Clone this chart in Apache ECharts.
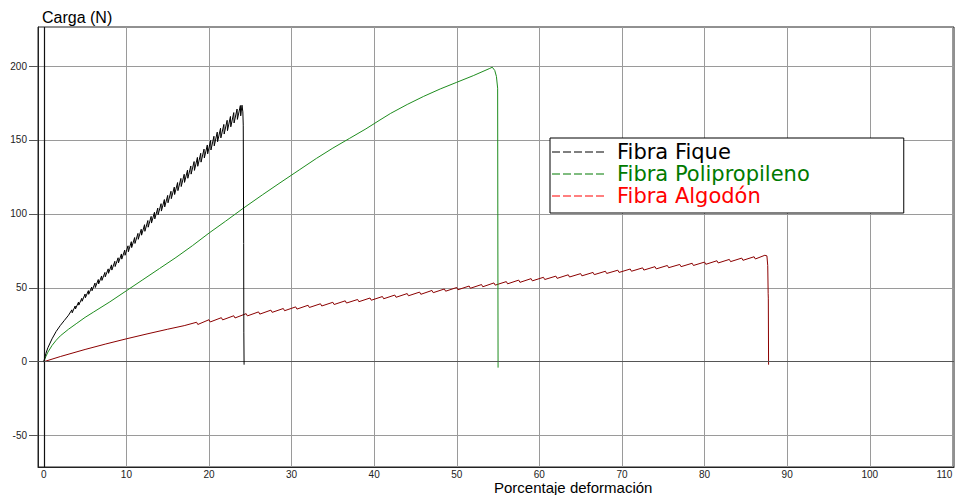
<!DOCTYPE html>
<html><head><meta charset="utf-8">
<script src="https://cdn.jsdelivr.net/npm/echarts@6/dist/echarts.min.js"></script>
<style>html,body{margin:0;padding:0;background:#fff}#c{width:955px;height:495px}</style>
</head><body><div id="c"></div>
<script>
const seriesNames = ['Fibra Fique', 'Fibra Polipropileno', 'Fibra Algodón'];
const xTicks = [0, 10, 20, 30, 40, 50, 60, 70, 80, 90, 100, 110];
const yTicks = [-50, 0, 50, 100, 150, 200];

const fiqueData = [
[0,0],[0.25,5.5],[0.5,9.5],[1,15.5],[1.5,20.5],[2,24.5],[2.5,28],[3,31.5],
[3.4,35.1],[3.44,33.1],[3.8,37.7],[3.84,35.7],[4.2,40.3],[4.24,38.3],[4.6,42.9],[4.64,40.9],
[5.0,45.8],[5.04,43.3],[5.4,48.1],[5.44,45.6],[5.8,50.5],[5.84,48.0],[6.2,53.2],[6.24,50.2],
[6.6,55.6],[6.64,52.6],[7.0,58],[7.04,55],[7.4,60.4],[7.44,57.4],[7.8,62.8],[7.84,59.8],
[8.2,65.5],[8.24,62],[8.6,67.9],[8.64,64.4],[9.0,70.3],[9.04,66.8],[9.4,72.9],[9.44,69.4],
[9.8,75.5],[9.84,72],[10.2,78.4],[10.24,74.4],[10.6,81.2],[10.64,77.2],[11.0,84],[11.04,80],
[11.4,86.8],[11.44,82.8],[11.8,89.6],[11.84,85.6],[12.2,92.7],[12.24,88.2],[12.6,95.5],[12.64,91],
[13.0,98.3],[13.04,93.8],[13.4,101.1],[13.44,96.6],[13.8,103.9],[13.84,99.4],[14.2,106.9],[14.24,101.9],
[14.6,109.7],[14.64,104.7],[15.0,112.5],[15.04,107.5],[15.4,115.3],[15.44,110.3],[15.8,118.1],[15.84,113.1],
[16.2,121.2],[16.24,115.7],[16.6,124],[16.64,118.5],[17.0,126.8],[17.04,121.3],[17.4,129.6],[17.44,124.1],
[17.8,132.4],[17.84,126.9],[18.2,135.4],[18.24,129.4],[18.6,138.2],[18.64,132.2],[19.0,141],[19.04,135],
[19.4,143.8],[19.44,137.8],[19.8,146.6],[19.84,140.6],[20.2,149.7],[20.24,143.2],[20.6,152.5],[20.64,146],
[21.0,155.3],[21.04,148.8],[21.4,157.9],[21.44,151.4],[21.8,160.5],[21.84,154],[22.2,163.3],[22.24,156.3],
[22.6,165.9],[22.64,158.9],[23.0,168.5],[23.04,161.5],[23.4,170.9],[23.44,163.9],[23.8,173.3],[23.84,166.3],
[24.0,173.5],[24.1,169],[24.15,160],[24.2,80],[24.22,20],[24.25,-2]
];

const polipropilenoData = [
[0,0],[0.25,3.5],[0.5,6.5],[1,11],[1.5,14.5],[2,17.5],[3,22],[4,26],[5,30],[6,33.5],[8,40.5],[10,48],
[12,55.5],[14,63],[16,70.5],[18,78.5],[20,87],[22,95],[24.2,104],[26.5,113],[28.6,121],[31,130],
[33,137.5],[35,144.5],[37,151],[39,157.5],[40.7,163.5],[42,168],[44,174],[46,179.5],[48,184.5],
[50,189],[52,193.5],[54,198.4],[54.3,199.2],[54.6,197],[54.8,193],[54.95,185],[54.97,100],[55.0,-4]
];

const algodonData = [
[0,0],[2,3.5],[5,8.3],[7.5,12],[10,15.5],[12.5,18.8],[15,22],[17,24.4],
[18.5,26.7],[18.65,25.2],[20,28.4],[20.15,26.9],[21.5,29.8],[21.65,28.3],[23,31.1],[23.15,29.6],
[24.5,32.5],[24.65,31],[26,33.7],[26.15,32.2],[27.5,34.9],[27.65,33.4],[29,36],[29.15,34.5],
[30.5,37.1],[30.65,35.6],[32,38.2],[32.15,36.7],[33.5,39.2],[33.65,37.7],[35,40.2],[35.15,38.7],
[36.5,41.2],[36.65,39.7],[38,42.1],[38.15,40.6],[39.5,43.1],[39.65,41.6],[41,44.1],[41.15,42.6],
[42.5,45.1],[42.65,43.6],[44,46.1],[44.15,44.6],[45.5,47.1],[45.65,45.6],[47,48.2],[47.15,46.7],
[48.5,49.2],[48.65,47.7],[50,50.2],[50.15,48.7],[51.5,51.2],[51.65,49.7],[53,52.2],[53.15,50.7],
[54.5,53.3],[54.65,51.8],[56,54.2],[56.15,52.7],[57.5,55.2],[57.65,53.7],[59,56.2],[59.15,54.7],
[60.5,57.1],[60.65,55.6],[62,57.9],[62.15,56.4],[63.5,58.8],[63.65,57.3],[65,59.6],[65.15,58.1],
[66.5,60.4],[66.65,58.9],[68,61.2],[68.15,59.7],[69.5,61.9],[69.65,60.4],[71,62.7],[71.15,61.2],
[72.5,63.5],[72.65,62],[74,64.3],[74.15,62.8],[75.5,65.1],[75.65,63.6],[77,65.8],[77.15,64.3],
[78.5,66.6],[78.65,65.1],[80,67.4],[80.15,65.9],[81.5,68.3],[81.65,66.8],[83,69.2],[83.15,67.7],
[84.5,70.1],[84.65,68.6],[86,71],[86.15,69.5],[87.3,72],[87.55,71.6],[87.65,65],[87.7,46],[87.72,43],[87.75,-2]
];

const lineColors = ['#000000', '#1e8c1e', '#8b0000'];
const legendColors = ['#000000', '#007a00', '#ff0000'];
const FONT = 'Liberation Sans, Arial, sans-serif';

const chart = echarts.init(document.getElementById('c'), null, {renderer: 'svg'});
chart.setOption({
  animation: false,
  backgroundColor: '#ffffff',
  title: [
    {text: 'Carga (N)', left: 37, top: 4,
     textStyle: {fontFamily: FONT, fontSize: 16, fontWeight: 'normal', color: '#000'}},
    {text: 'Porcentaje deformación', left: 494, top: 480, padding: 0,
     textStyle: {fontFamily: FONT, fontSize: 15, lineHeight: 15, fontWeight: 'normal', color: '#000'}}
  ],
  grid: {left: 38, right: 1, top: 27, bottom: 28, outerBoundsMode: 'none', containLabel: false,
         show: true, borderColor: '#222', borderWidth: 1, backgroundColor: 'transparent'},
  legend: {
    orient: 'vertical', left: 550, top: 138,
    padding: [3, 94, 6, 2], itemGap: 0,
    itemWidth: 52, itemHeight: 2,
    icon: 'path://M0,0h8v1h-8z M11,0h8v1h-8z M22,0h8v1h-8z M33,0h8v1h-8z M44,0h8v1h-8z',
    backgroundColor: '#ffffff', borderColor: '#000', borderWidth: 1, borderRadius: 0,
    textStyle: {fontFamily: 'DejaVu Sans, sans-serif', fontSize: 21, lineHeight: 22, padding: [0, 0, 0, 8]},
    selectedMode: false,
    data: seriesNames.map((n, i) => ({name: n, textStyle: {color: legendColors[i]}, itemStyle: {color: legendColors[i]}}))
  },
  xAxis: {
    type: 'value', min: -0.7, max: 110.2,
    axisLine: {show: true, onZero: false, lineStyle: {color: '#222', width: 1}},
    axisTick: {show: false, customValues: xTicks},
    axisLabel: {customValues: xTicks, fontFamily: FONT, fontSize: 10, color: '#222', margin: 2, alignMaxLabel: 'right'},
    splitLine: {show: true, lineStyle: {color: '#9a9a9a', width: 1}}
  },
  yAxis: {
    type: 'value', min: -71.2, max: 226.4,
    axisLine: {show: true, onZero: false, lineStyle: {color: '#222', width: 1}},
    axisTick: {show: true, length: 9, customValues: yTicks, lineStyle: {color: '#555'}},
    axisLabel: {customValues: yTicks, fontFamily: FONT, fontSize: 10, color: '#222', margin: 11},
    splitLine: {show: true, lineStyle: {color: '#9a9a9a', width: 1}}
  },
  series: [
    {name: seriesNames[0], type: 'line', data: fiqueData, showSymbol: false, symbol: 'none', z: 5,
     lineStyle: {color: lineColors[0], width: 1}, itemStyle: {color: lineColors[0]},
     markLine: {silent: true, symbol: 'none', label: {show: false}, animation: false,
       data: [
         {xAxis: 0, lineStyle: {color: '#111', width: 1.2, type: 'solid'}},
         {yAxis: 0, lineStyle: {color: '#555', width: 1, type: 'solid'}}
       ]}},
    {name: seriesNames[1], type: 'line', data: polipropilenoData, showSymbol: false, symbol: 'none', z: 4,
     lineStyle: {color: lineColors[1], width: 1}, itemStyle: {color: lineColors[1]}},
    {name: seriesNames[2], type: 'line', data: algodonData, showSymbol: false, symbol: 'none', z: 3,
     lineStyle: {color: lineColors[2], width: 1}, itemStyle: {color: lineColors[2]}}
  ]
});
</script>
</body></html>
